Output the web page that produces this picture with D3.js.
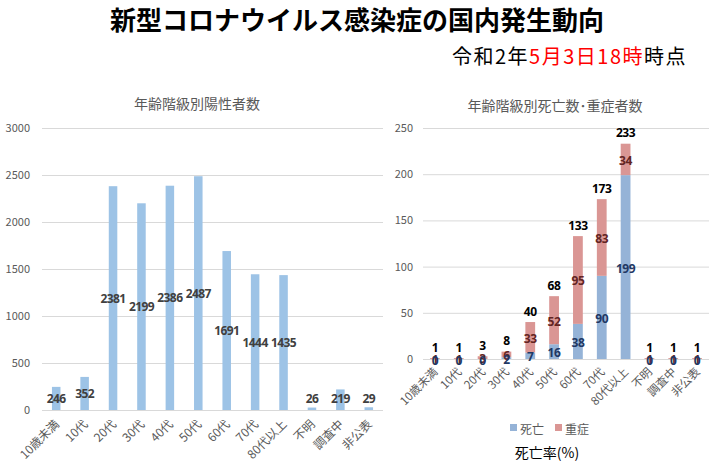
<!DOCTYPE html>
<html><head><meta charset="utf-8">
<script src="https://cdn.jsdelivr.net/npm/d3@7"></script>
<style>
html,body{margin:0;padding:0;background:#fff;}
svg{display:block;font-family:"Noto Sans CJK JP","Noto Sans",sans-serif;}
</style></head>
<body>
<svg id="c" width="720" height="462"></svg>
<script>
const categories = ["10歳未満","10代","20代","30代","40代","50代","60代","70代","80代以上","不明","調査中","非公表"];
const positives = [246,352,2381,2199,2386,2487,1691,1444,1435,26,219,29];
const deaths   = [0,0,0,2,7,16,38,90,199,0,0,0];
const severe   = [1,1,3,6,33,52,95,83,34,1,1,1];
const totals   = [1,1,3,8,40,68,133,173,233,1,1,1];
const leftTicks = [0,500,1000,1500,2000,2500,3000];
const rightTicks = [0,50,100,150,200,250];
const seriesNames = ["死亡","重症"];

const svg = d3.select("#c");
const FONT = '"Noto Sans CJK JP","Noto Sans",sans-serif';
const NUMFONT = '"Noto Sans","Open Sans",sans-serif';

// Main title
svg.append("text").attr("x",357).attr("y",18).attr("text-anchor","middle")
  .attr("dominant-baseline","central").attr("font-size",26).attr("font-weight",700)
  .attr("fill","#000").text("新型コロナウイルス感染症の国内発生動向");

const sub = svg.append("text").attr("x",452).attr("y",55).attr("dominant-baseline","central")
  .attr("font-size",20).attr("letter-spacing","1.5px");
sub.append("tspan").attr("fill","#000").text("令和2年");
sub.append("tspan").attr("fill","#ff0000").text("5月3日18時");
sub.append("tspan").attr("fill","#000").text("時点");

const grid = "#d9d9d9", tickCol = "#595959";

// ---------- Left chart ----------
const xL = d3.scaleBand().domain(categories).range([42,383]).paddingInner(0.7).paddingOuter(0.35);
const yL = d3.scaleLinear().domain([0,3000]).range([410,128]);
const gL = svg.append("g");
gL.append("text").attr("x",197).attr("y",103).attr("text-anchor","middle")
  .attr("dominant-baseline","central").attr("font-size",14).attr("fill",tickCol)
  .text("年齢階級別陽性者数");
const axL = gL.append("g").attr("transform","translate(42,0)")
  .call(d3.axisLeft(yL).tickValues(leftTicks).tickSize(-341).tickPadding(12).tickFormat(d3.format("d")));
axL.select(".domain").remove();
axL.selectAll(".tick line").attr("stroke",grid).attr("stroke-width",1);
axL.selectAll(".tick text").attr("fill",tickCol).attr("font-size",11).attr("font-family",FONT);
gL.selectAll("rect.bar").data(positives).join("rect").attr("class","bar")
  .attr("x",(d,i)=>xL(categories[i])).attr("width",xL.bandwidth())
  .attr("y",d=>yL(d)).attr("height",d=>yL(0)-yL(d)).attr("fill","#9dc3e6");
gL.selectAll("text.lab").data(positives).join("text").attr("class","lab")
  .attr("x",(d,i)=>xL(categories[i])+xL.bandwidth()/2)
  .attr("y",d=>Math.min(yL(d/2),398)).attr("text-anchor","middle").attr("dominant-baseline","central")
  .attr("font-family",NUMFONT).attr("letter-spacing","-0.6px")
  .attr("font-size",12).attr("font-weight",700).attr("fill","#404040").text(d=>d);
gL.selectAll("text.xl").data(categories).join("text").attr("class","xl")
  .attr("transform",d=>`translate(${xL(d)+xL.bandwidth()/2},${421}) rotate(-45)`)
  .attr("text-anchor","end").attr("dominant-baseline","central")
  .attr("font-size",12).attr("fill",tickCol).text(d=>d);

// ---------- Right chart ----------
const xR = d3.scaleBand().domain(categories).range([423,709]).paddingInner(0.59).paddingOuter(0.295);
const yR = d3.scaleLinear().domain([0,250]).range([359,128]);
const gR = svg.append("g");
gR.append("text").attr("x",555).attr("y",105).attr("text-anchor","middle")
  .attr("dominant-baseline","central").attr("font-size",14).attr("fill",tickCol)
  .text("年齢階級別死亡数･重症者数");
const axR = gR.append("g").attr("transform","translate(423,0)")
  .call(d3.axisLeft(yR).tickValues(rightTicks).tickSize(-286).tickPadding(10));
axR.select(".domain").remove();
axR.selectAll(".tick line").attr("stroke",grid).attr("stroke-width",1);
axR.selectAll(".tick text").attr("fill",tickCol).attr("font-size",11).attr("font-family",FONT);

const stackData = categories.map((c,i)=>({cat:c, "死亡":deaths[i], "重症":severe[i]}));
const stacked = d3.stack().keys(seriesNames)(stackData);
const colors = {"死亡":"#95b3d7","重症":"#da9694"};
const labCol = {"死亡":"#1f3864","重症":"#632523"};
stacked.forEach(layer=>{
  gR.append("g").selectAll("rect").data(layer).join("rect")
    .attr("x",d=>xR(d.data.cat)).attr("width",xR.bandwidth())
    .attr("y",d=>yR(d[1])).attr("height",d=>yR(d[0])-yR(d[1]))
    .attr("fill",colors[layer.key]);
});
[stacked[1],stacked[0]].forEach(layer=>{
  gR.append("g").selectAll("text").data(layer).join("text")
    .attr("x",d=>xR(d.data.cat)+xR.bandwidth()/2).attr("y",d=>yR((d[0]+d[1])/2)+1)
    .attr("text-anchor","middle").attr("dominant-baseline","central")
    .attr("font-family",NUMFONT).attr("letter-spacing","-0.4px")
    .attr("font-size",12).attr("font-weight",700).attr("fill",labCol[layer.key])
    .text(d=>d.data[layer.key]);
});
gR.selectAll("text.tot").data(totals).join("text").attr("class","tot")
  .attr("x",(d,i)=>xR(categories[i])+xR.bandwidth()/2).attr("y",d=>yR(d)-11)
  .attr("text-anchor","middle").attr("dominant-baseline","central")
  .attr("font-family",NUMFONT).attr("letter-spacing","-0.4px")
  .attr("font-size",12).attr("font-weight",700).attr("fill","#000").text(d=>d);
gR.selectAll("text.xl").data(categories).join("text").attr("class","xl")
  .attr("transform",d=>`translate(${xR(d)+xR.bandwidth()/2},${369}) rotate(-45)`)
  .attr("text-anchor","end").attr("dominant-baseline","central")
  .attr("font-size",11.5).attr("fill",tickCol).text(d=>d);

// Legend
const leg = gR.append("g");
const legX = [510,555];
seriesNames.forEach((k,i)=>{
  leg.append("rect").attr("x",legX[i]).attr("y",424).attr("width",7).attr("height",7).attr("fill",colors[k]);
  leg.append("text").attr("x",legX[i]+10).attr("y",428).attr("dominant-baseline","central")
    .attr("font-size",12).attr("fill",tickCol).text(k);
});
svg.append("text").attr("x",547).attr("y",452).attr("text-anchor","middle").attr("dominant-baseline","central")
  .attr("font-size",14).attr("fill","#000").text("死亡率(%)");
</script>
</body></html>
